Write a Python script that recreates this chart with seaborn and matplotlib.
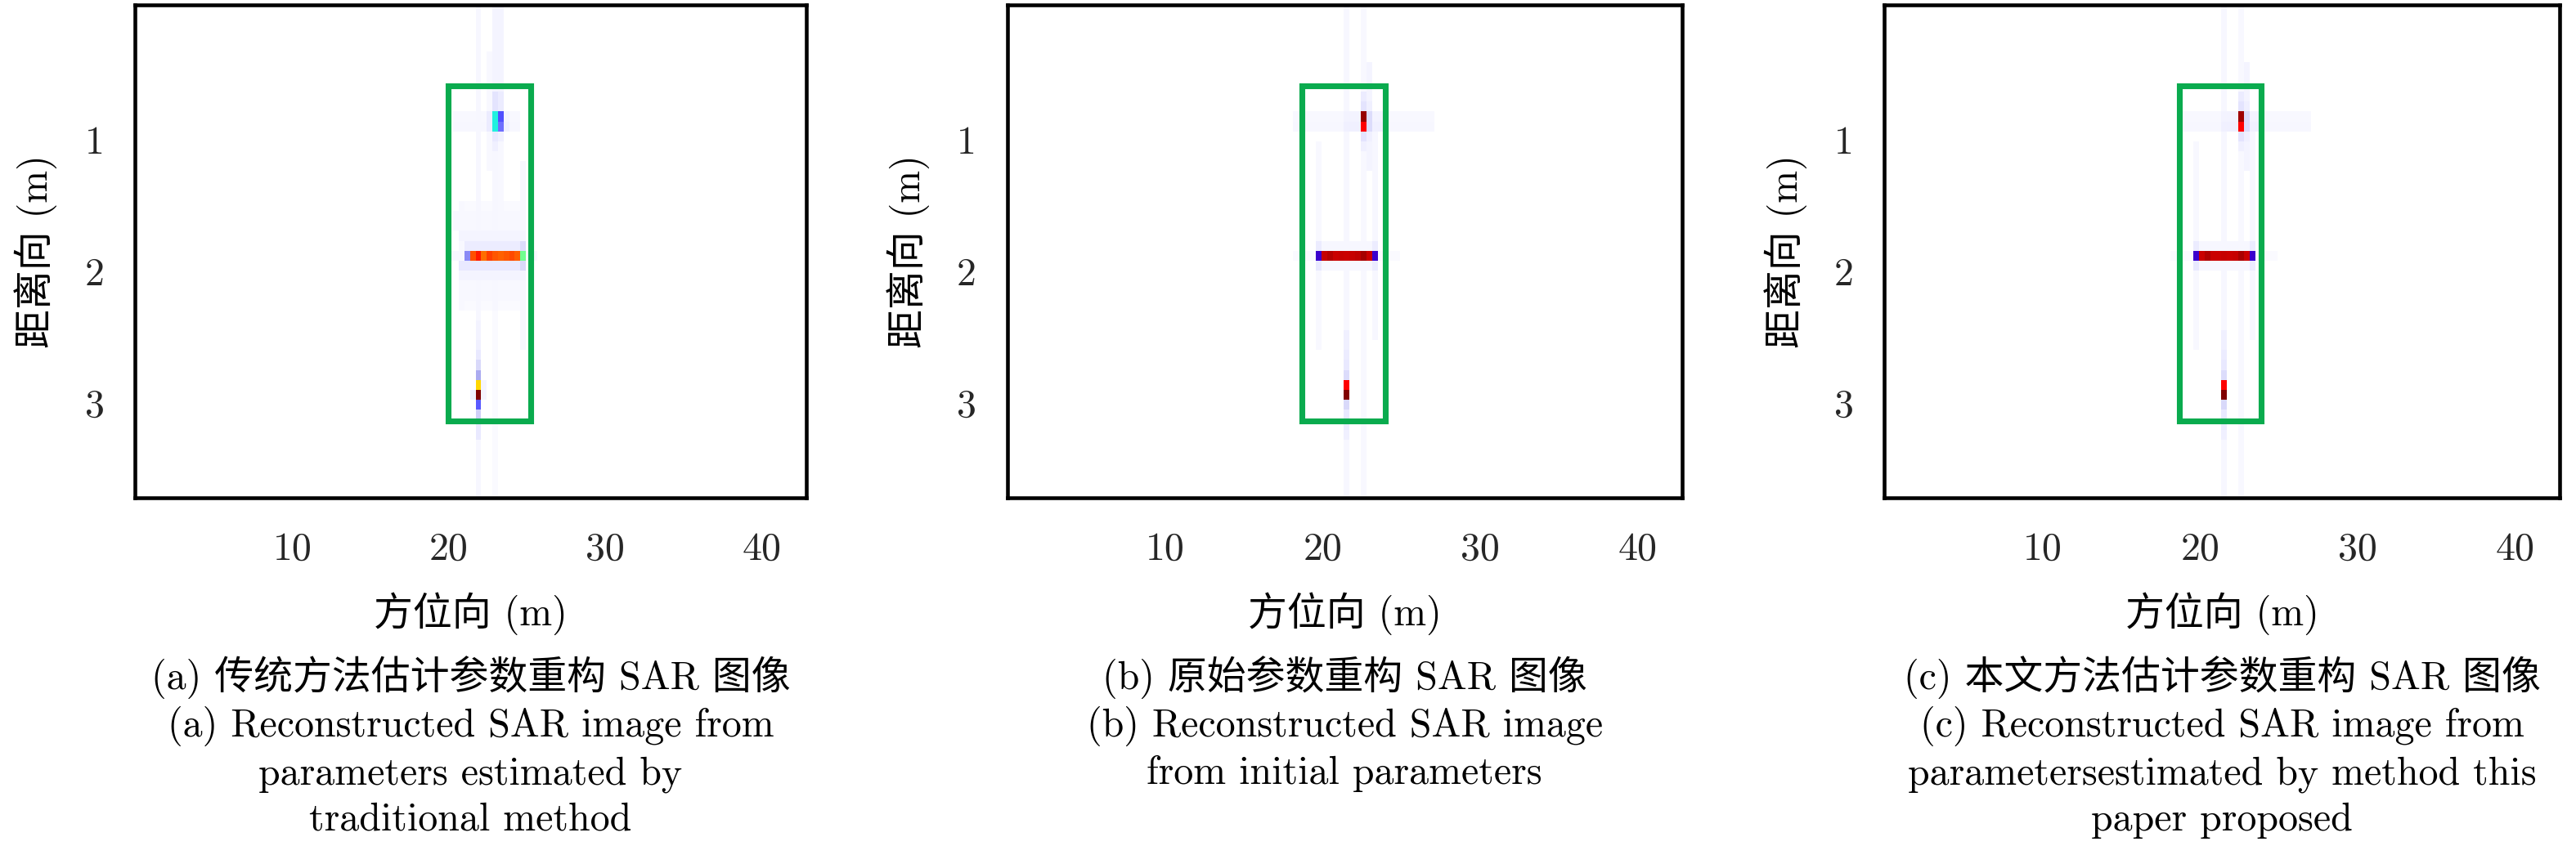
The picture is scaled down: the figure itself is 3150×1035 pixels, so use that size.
import numpy as np
import matplotlib
matplotlib.use("Agg")
import matplotlib.pyplot as plt
import seaborn as sns
from matplotlib.colors import LinearSegmentedColormap
from matplotlib.patches import Rectangle

# ---------------- grid of the SAR image ----------------
N_ROWS, N_COLS = 50, 121
X0, DX = -0.104, 0.3577     # azimuth (m) of first column edge, column width
Y0, DY = -0.047, 0.0757     # range (m) of first row edge, row height

x_ticks = [10, 20, 30, 40]
y_ticks = [1, 2, 3]
x_lim = (-0.05, 42.85)
y_lim = (3.727, -0.026)
x_label = "方位向 (m)"
y_label = "距离向 (m)"

# green rectangles (x0, y0, x1, y1) in metres
box_a = (19.97, 0.59, 25.24, 3.14)
box_b = (18.70, 0.59, 23.96, 3.14)
box_c = (18.68, 0.59, 23.90, 3.14)

# ---------------- image data (normalised amplitude) ----------------
# vertical streaks: (col, row_start, row_end, value)
a_vstreaks = [(61, 0, 49, 0.025), (61, 32, 33, 0.035), (64, 0, 10, 0.03), (64, 13, 30, 0.025),
              (64, 31, 49, 0.015), (65, 0, 10, 0.03), (65, 13, 20, 0.02), (63, 5, 16, 0.02),
              (69, 16, 34, 0.025), (58, 20, 30, 0.02)]
# horizontal streaks: (row, col_start, col_end, value)
a_hstreaks = [(11, 57, 68, 0.02), (12, 57, 68, 0.025), (20, 58, 69, 0.015), (21, 57, 69, 0.02),
              (22, 57, 69, 0.02), (23, 58, 69, 0.03), (24, 59, 69, 0.05), (25, 56, 58, 0.025),
              (25, 70, 71, 0.02), (26, 58, 69, 0.06), (27, 58, 69, 0.03), (28, 58, 69, 0.02),
              (29, 59, 68, 0.02), (30, 59, 68, 0.015)]
# single cells: (row, col, value)
a_points = [(9, 64, 0.07), (10, 64, 0.07), (11, 64, 0.42), (12, 64, 0.42), (13, 64, 0.06),
            (14, 64, 0.04), (9, 65, 0.05), (10, 65, 0.05), (11, 65, 0.26), (12, 65, 0.215),
            (13, 65, 0.04), (11, 63, 0.05), (12, 63, 0.05), (11, 66, 0.03), (12, 66, 0.04),
            (24, 69, 0.085), (26, 69, 0.09), (39, 60, 0.04), (38, 62, 0.03), (39, 62, 0.03),
            (42, 61, 0.06), (43, 61, 0.06)]
a_bar_row, a_bar_col0 = 25, 59
a_bar_vals = [0.18, 0.76, 0.82, 0.715, 0.78, 0.75, 0.735, 0.75, 0.77, 0.74, 0.52]
a_low_col, a_low_row0 = 61, 34
a_low_vals = [0.04, 0.06, 0.09, 0.14, 0.62, 1.0, 0.245, 0.105]

b_vstreaks = [(60, 0, 49, 0.025), (60, 33, 35, 0.04), (60, 36, 36, 0.06), (63, 0, 49, 0.02),
              (64, 6, 16, 0.03), (55, 14, 34, 0.02), (65, 13, 33, 0.025)]
b_hstreaks = [(11, 51, 75, 0.02), (12, 51, 75, 0.025), (11, 60, 66, 0.035), (12, 60, 66, 0.04),
              (25, 51, 54, 0.015), (25, 66, 69, 0.015), (24, 55, 65, 0.025), (26, 55, 65, 0.025)]
b_points = [(24, 55, 0.05), (26, 55, 0.06), (24, 65, 0.05), (26, 65, 0.05),
            (9, 63, 0.05), (10, 63, 0.07), (11, 63, 0.97), (12, 63, 0.86), (13, 63, 0.07),
            (14, 63, 0.04), (11, 64, 0.085), (12, 64, 0.085), (10, 64, 0.04), (13, 64, 0.04)]
b_bar_row, b_bar_col0 = 25, 55
b_bar_vals = [0.30, 0.925, 0.94, 0.92, 0.925, 0.92, 0.925, 0.93, 0.955, 0.92, 0.30]
b_low_col, b_low_row0 = 60, 34
b_low_vals = [0.04, 0.05, 0.06, 0.085, 0.86, 1.0, 0.09, 0.06, 0.05, 0.04]

c_vstreaks = [(60, 0, 49, 0.025), (60, 33, 35, 0.04), (60, 36, 36, 0.06), (63, 0, 49, 0.02),
              (64, 6, 16, 0.03), (55, 14, 34, 0.02), (65, 13, 33, 0.025)]
c_hstreaks = [(11, 53, 75, 0.02), (12, 53, 75, 0.025), (11, 60, 66, 0.035), (12, 60, 66, 0.04),
              (25, 51, 54, 0.015), (25, 66, 69, 0.015), (24, 55, 65, 0.025), (26, 55, 65, 0.025)]
c_points = [(24, 55, 0.05), (26, 55, 0.06), (24, 65, 0.05), (26, 65, 0.05),
            (9, 63, 0.05), (10, 63, 0.07), (11, 63, 0.96), (12, 63, 0.86), (13, 63, 0.07),
            (14, 63, 0.04), (11, 64, 0.085), (12, 64, 0.085), (10, 64, 0.04), (13, 64, 0.04)]
c_bar_row, c_bar_col0 = 25, 55
c_bar_vals = [0.30, 0.92, 0.945, 0.92, 0.92, 0.925, 0.92, 0.925, 0.95, 0.92, 0.30]
c_low_col, c_low_row0 = 60, 34
c_low_vals = [0.04, 0.05, 0.06, 0.085, 0.86, 1.0, 0.09, 0.06, 0.05, 0.04]

cap_a = ["(a) 传统方法估计参数重构 SAR 图像", "(a) Reconstructed SAR image from",
         "parameters estimated by", "traditional method"]
cap_b = ["(b) 原始参数重构 SAR 图像", "(b) Reconstructed SAR image",
         "from initial parameters"]
cap_c = ["(c) 本文方法估计参数重构 SAR 图像", "(c) Reconstructed SAR image from",
         "parametersestimated by method this", "paper proposed"]

# ---------------- styling ----------------
cmap_anchors = [(0.000, "#ffffff"), (0.020, "#f8f8ff"), (0.040, "#f0f0ff"), (0.060, "#e8e8ff"),
                (0.080, "#dedefc"), (0.100, "#d4d4f8"), (0.140, "#aaaaf0"), (0.180, "#8a8af5"),
                (0.220, "#6a6aff"), (0.260, "#5050ff"), (0.300, "#3a00cc"), (0.420, "#20f0e0"),
                (0.520, "#70ff90"), (0.620, "#ffd700"), (0.720, "#ff6a00"), (0.770, "#ff4a00"),
                (0.820, "#ff1a00"), (0.860, "#ff0000"), (0.920, "#cc0000"), (0.960, "#a00000"),
                (1.000, "#800000")]
cmap = LinearSegmentedColormap.from_list("sar", cmap_anchors, N=512)

sns.set_theme(style="white")
FONT = ["cmr10", "Noto Sans CJK SC"]
plt.rcParams["font.family"] = FONT
plt.rcParams["axes.formatter.use_mathtext"] = True
plt.rcParams["axes.unicode_minus"] = False
FS = 11.5
GREEN = "#0aab4e"


def build(vstreaks, hstreaks, points, bar_row, bar_col0, bar_vals, low_col, low_row0, low_vals):
    m = np.zeros((N_ROWS, N_COLS))
    for c, r0, r1, v in vstreaks:
        m[r0:r1 + 1, c] = np.maximum(m[r0:r1 + 1, c], v)
    for r, c0, c1, v in hstreaks:
        m[r, c0:c1 + 1] = np.maximum(m[r, c0:c1 + 1], v)
    for r, c, v in points:
        m[r, c] = v
    for i, v in enumerate(bar_vals):
        m[bar_row, bar_col0 + i] = v
    for i, v in enumerate(low_vals):
        m[low_row0 + i, low_col] = v
    return m


def xi(x):
    return (np.asarray(x, dtype=float) - X0) / DX


def yi(y):
    return (np.asarray(y, dtype=float) - Y0) / DY


panels = [
    (build(a_vstreaks, a_hstreaks, a_points, a_bar_row, a_bar_col0, a_bar_vals,
           a_low_col, a_low_row0, a_low_vals), box_a, cap_a, (165, 986)),
    (build(b_vstreaks, b_hstreaks, b_points, b_bar_row, b_bar_col0, b_bar_vals,
           b_low_col, b_low_row0, b_low_vals), box_b, cap_b, (1231.5, 2057)),
    (build(c_vstreaks, c_hstreaks, c_points, c_bar_row, c_bar_col0, c_bar_vals,
           c_low_col, c_low_row0, c_low_vals), box_c, cap_c, (2304.3, 3130)),
]

W, H = 3150, 1035
fig = plt.figure(figsize=(W / 300, H / 300), dpi=300)
fig.patch.set_facecolor("white")

top_px, bot_px = 6, 609
baselines = [843, 901, 959, 1016]

for mat, box, cap, (l_px, r_px) in panels:
    ax = fig.add_axes([l_px / W, 1 - bot_px / H, (r_px - l_px) / W, (bot_px - top_px) / H])
    sns.heatmap(mat, ax=ax, cmap=cmap, vmin=0, vmax=1, cbar=False,
                xticklabels=False, yticklabels=False)
    ax.set_xlim(xi(x_lim[0]), xi(x_lim[1]))
    ax.set_ylim(yi(y_lim[0]), yi(y_lim[1]))
    for s in ax.spines.values():
        s.set_visible(True)
        s.set_color("black")
        s.set_linewidth(1.1)
    ax.set_xticks(xi(x_ticks))
    ax.set_xticklabels([str(t) for t in x_ticks], fontsize=FS, family=FONT)
    ax.set_yticks(yi(y_ticks))
    ax.set_yticklabels([str(t) for t in y_ticks], fontsize=FS, family=FONT, rotation=0)
    ax.tick_params(axis="both", direction="in", length=6, width=1.0, color="black",
                   top=True, right=True, bottom=True, left=True,
                   labeltop=False, labelright=False)
    ax.tick_params(axis="x", pad=10)
    ax.tick_params(axis="y", pad=9)
    ax.set_xlabel(x_label, fontsize=FS, family=FONT, labelpad=7, color="black")
    ax.set_ylabel(y_label, fontsize=FS, family=FONT, labelpad=8, color="black")
    x0, y0, x1, y1 = box
    ax.add_patch(Rectangle((xi(x0), yi(y0)), xi(x1) - xi(x0), yi(y1) - yi(y0),
                           fill=False, edgecolor=GREEN, linewidth=1.7, zorder=5))
    cx = (l_px + r_px) / 2 / W
    for line, bl in zip(cap, baselines):
        fig.text(cx, 1 - bl / H, line, ha="center", va="baseline", fontsize=FS,
                 family=FONT, color="black")

fig.savefig("out.png", dpi=300, facecolor="white")
